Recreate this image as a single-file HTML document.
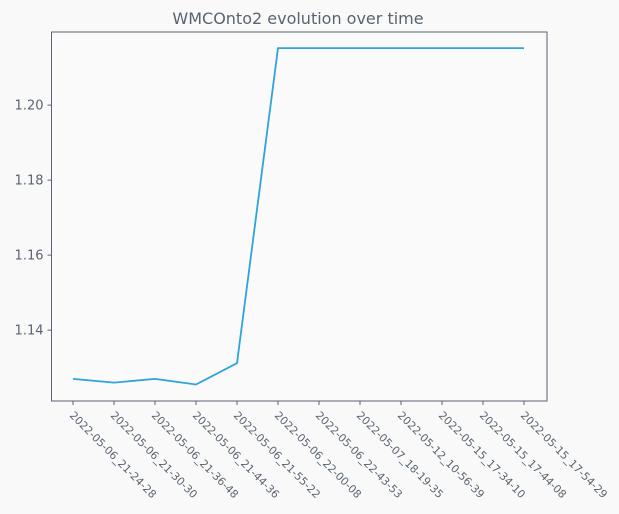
<!DOCTYPE html>
<html><head><meta charset="utf-8"><style>
html,body{margin:0;padding:0;background:#f9f9f9;}
svg{display:block;font-family:"DejaVu Sans","Liberation Sans",sans-serif;}
</style></head><body>
<svg id="chart" width="619" height="514">
<rect width="619" height="514" fill="#f9f9f9"/>
<text x="298" y="24" text-anchor="middle" font-size="16" fill="#5a6470">WMCOnto2 evolution over time</text>
<g id="plot"></g>
</svg>
<script>
const categories = ["2022-05-06_21-24-28","2022-05-06_21-30-30","2022-05-06_21-36-48","2022-05-06_21-44-36","2022-05-06_21-55-22","2022-05-06_22-00-08","2022-05-06_22-43-53","2022-05-07_18-19-35","2022-05-12_10-56-39","2022-05-15_17-34-10","2022-05-15_17-44-08","2022-05-15_17-54-29"];
const values = [1.127,1.126,1.127,1.1255,1.1312,1.2152,1.2152,1.2152,1.2152,1.2152,1.2152,1.2152];
const yTicks = [1.14,1.16,1.18,1.20];
const yTickLabels = ["1.14","1.16","1.18","1.20"];

const L=51.5,R=547,T=32,B=401;
const yMin=1.1211,yMax=1.2195;
const y=v=>B-(v-yMin)/(yMax-yMin)*(B-T);
const x=i=>73+i*(524-73)/(categories.length-1);
const NS="http://www.w3.org/2000/svg";
const g=document.getElementById('plot');
function mk(tag,attrs){const e=document.createElementNS(NS,tag);for(const k in attrs)e.setAttribute(k,attrs[k]);g.appendChild(e);return e;}
const frame=mk('rect',{x:L,y:T,width:R-L,height:B-T,fill:'#fafafa',stroke:'#5a6470','stroke-width':1});


yTicks.forEach((v,i)=>{
  const t=mk('line',{x1:L-4,x2:L,y1:y(v),y2:y(v),stroke:'#5a6470'});
  
  
  const l=mk('text',{x:L-8,y:y(v)+4.5,'text-anchor':'end','font-size':13,fill:'#5a6470'});
  l.textContent=yTickLabels[i];
  
  
});
categories.forEach((c,i)=>{
  const t=mk('line',{x1:x(i),x2:x(i),y1:B,y2:B+4,stroke:'#5a6470'});
  
  
  const l=mk('text',{x:x(i)-4,y:B+15,'font-size':10.8,fill:'#5a6470',transform:`rotate(45 ${x(i)-4} ${B+15})`});
  l.textContent=c;
  
  
});
const line=mk('polyline',{points:values.map((v,i)=>x(i)+','+y(v)).join(' '),fill:'none',stroke:'#2ea3dc','stroke-width':1.8});


</script>
</body></html>
